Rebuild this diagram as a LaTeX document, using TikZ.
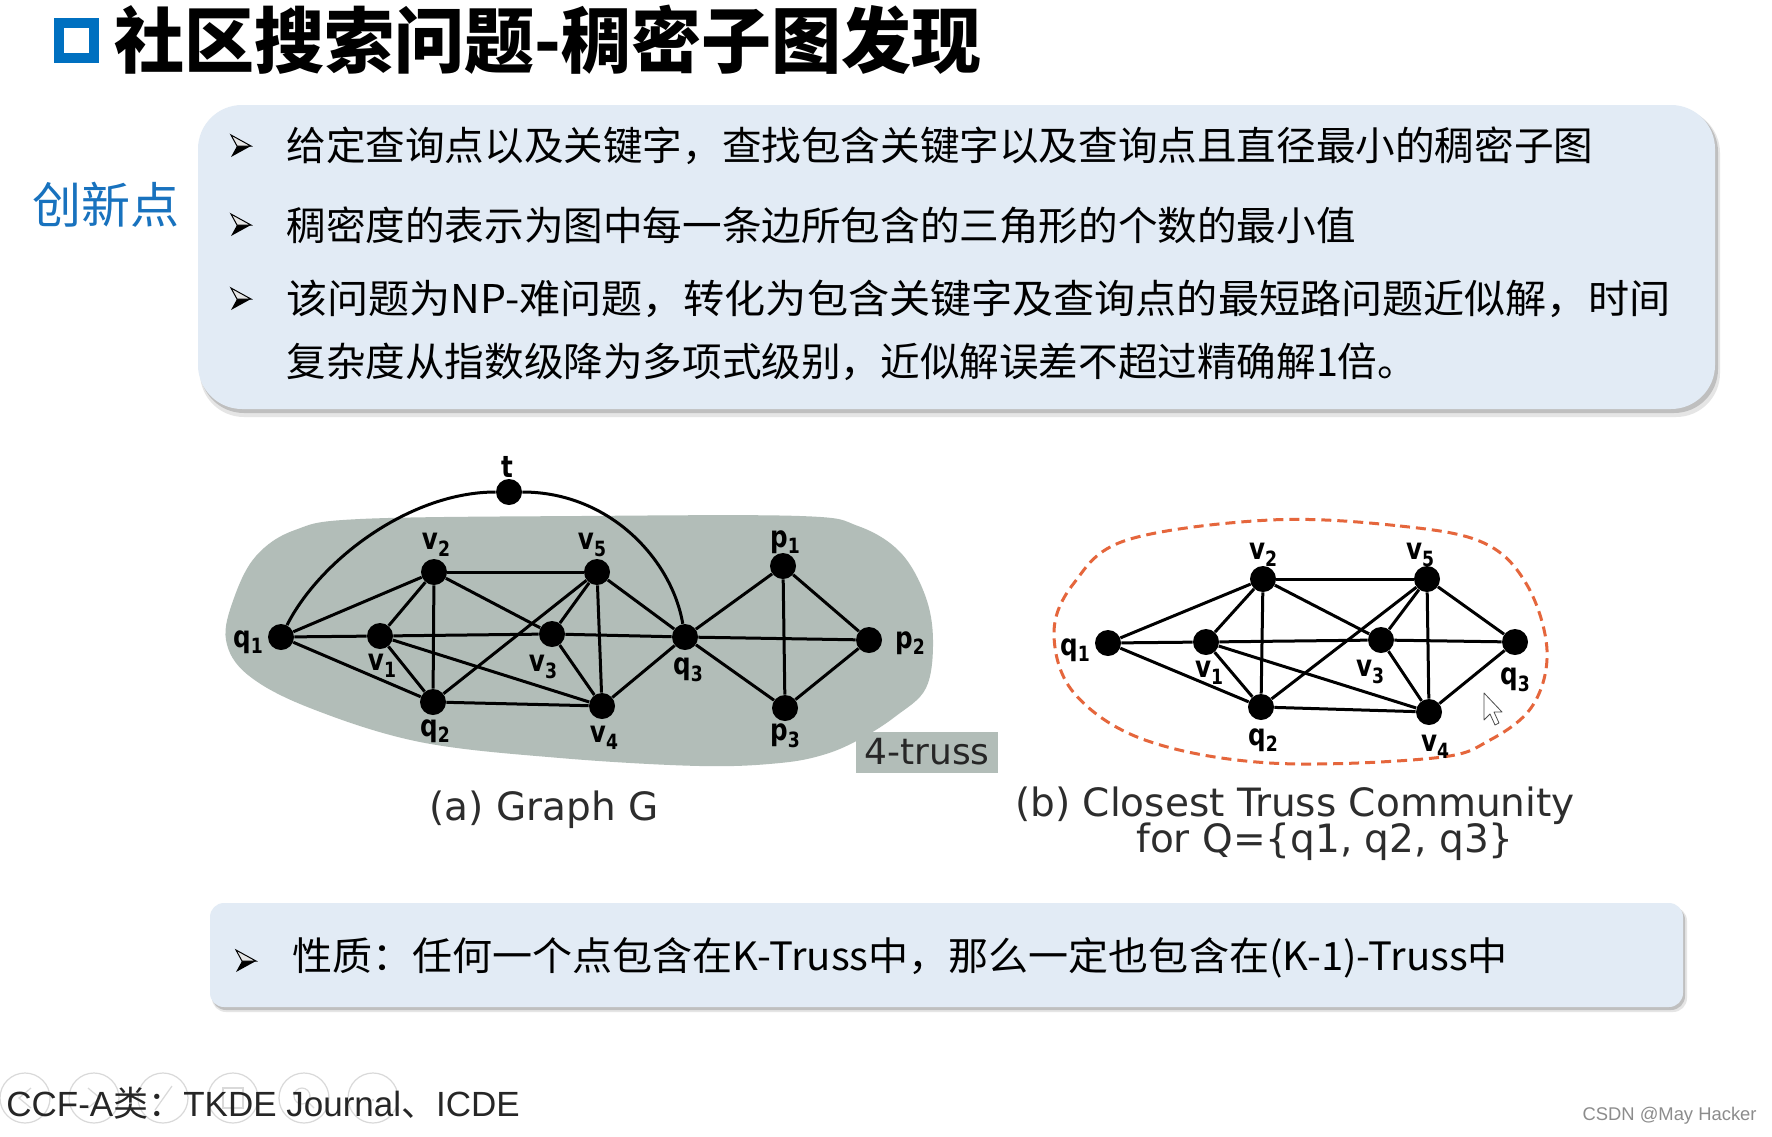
\documentclass[tikz,border=0pt]{standalone}
\usepackage{fontspec}
\usepackage{graphicx}
\setmainfont{Liberation Sans}
\newfontfamily\cjk{Noto Sans CJK SC}
\newfontfamily\dv{DejaVu Sans}
\newcommand\fsz[1]{\fontsize{#1pt}{#1pt}\selectfont}
\newcommand\vlab[2]{\scalebox{0.82}[1]{\dv\bfseries\fsz{15}#1\raisebox{-0.22em}{\fsz{10.5}#2}}}
\definecolor{boxfill}{RGB}{226,235,245}
\definecolor{blobgray}{RGB}{178,189,184}
\definecolor{ttlblue}{RGB}{0,112,192}
\definecolor{cxblue}{RGB}{24,114,190}
\definecolor{dashor}{RGB}{229,102,60}
\definecolor{capgray}{RGB}{45,45,45}
\tikzset{
  bul/.pic={
    \fill[black] (-10,11) -- (10,0) -- (-4,0) -- cycle;
    \filldraw[fill=gray!20, draw=black, line width=0.5pt] (-10,-11) -- (10,0) -- (-4,0) -- cycle;
  }
}
\begin{document}
\begin{tikzpicture}[x=0.5pt,y=-0.5pt,
  dot/.style={circle,fill=black,inner sep=0pt,minimum size=13pt},
  edge/.style={line width=1.5pt},
  lab/.style={inner sep=0pt},
  bodytext/.style={anchor=west,inner sep=0pt,font=\cjk\fsz{19.8}},
  icon/.style={draw=gray!30,line width=0.6pt}
]
\useasboundingbox (0,0) rectangle (1772,1136);
\fill[white] (0,0) rectangle (1772,1136);

% ---------- title ----------
\draw[ttlblue, line width=5pt] (59,23) rectangle (94,58);
\node[anchor=west, inner sep=0pt, font=\cjk\bfseries\fsz{34.5}] (title) at (114,40) {\scalebox{1.015}[1.04]{社区搜索问题-稠密子图发现}};

% ---------- main box ----------
\fill[black!10, rounded corners=22pt] (200,109) rectangle (1720,417);
\fill[black!25, rounded corners=22pt] (200,108) rectangle (1718,413);
\fill[boxfill, rounded corners=22pt] (198,105) rectangle (1715,409);
\node[text=cxblue, font=\cjk\fsz{24.5}, inner sep=0pt] (cx) at (106,205) {创新点};

\pic at (241,146) {bul};
\pic at (241,225) {bul};
\pic at (241,299) {bul};
\node[bodytext] (l1) at (286,146) {给定查询点以及关键字，查找包含关键字以及查询点且直径最小的稠密子图};
\node[bodytext] (l2) at (286,225) {稠密度的表示为图中每一条边所包含的三角形的个数的最小值};
\node[bodytext] (l3) at (286,299) {\scalebox{1.038}[1]{该问题为NP-难问题，转化为包含关键字及查询点的最短路问题近似解，时间}};
\node[bodytext] (l4) at (286,362) {复杂度从指数级降为多项式级别，近似解误差不超过精确解1倍。};

% ---------- graph (a) ----------
\fill[blobgray] plot[smooth cycle, tension=0.6] coordinates {
  (226,640) (234,598) (256,556) (295,530) (360,519) (580,516) (800,516)
  (858,526) (900,552) (925,595) (933,640) (926,688) (896,716) (862,738)
  (826,754) (780,763) (700,766) (560,758) (420,742) (310,708) (248,675)};
\node[fill=blobgray, minimum width=71pt, minimum height=20.5pt, inner sep=0pt,
      font=\dv\fsz{18}, text=black!85] (truss) at (927,752) {4-truss};

\node[dot] (at) at (509,492) {};
\node[dot] (av2) at (434,572) {};
\node[dot] (av5) at (597,572) {};
\node[dot] (aq1) at (281,637) {};
\node[dot] (av1) at (380,636) {};
\node[dot] (av3) at (552,634) {};
\node[dot] (aq3) at (685,637) {};
\node[dot] (aq2) at (433,702) {};
\node[dot] (av4) at (602,706) {};
\node[dot] (ap1) at (783,566) {};
\node[dot] (ap2) at (869,640) {};
\node[dot] (ap3) at (785,708) {};

\foreach \a/\b in {q1/v1, v1/v3, v3/q3, q3/p2, q1/v2, q1/q2, v1/v2, v1/q2, v1/v4,
  v2/q2, v2/v5, v2/v3, v5/v3, v5/v4, v5/q3, v5/q2, v3/v4, q2/v4, v4/q3,
  q3/p1, q3/p3, p1/p2, p1/p3, p2/p3}
  \draw[edge] (a\a) -- (a\b);
\draw[edge] (aq1) .. controls (320,560) and (410,492) .. (at);
\draw[edge] (at) .. controls (610,492) and (672,560) .. (aq3);

\node[lab] (lat) at (507,467) {\scalebox{0.82}[1]{\dv\bfseries\fsz{15}t}};
\node[lab] (lav2) at (436,545) {\vlab{v}{2}};
\node[lab] (lav5) at (592,545) {\vlab{v}{5}};
\node[lab] (lap1) at (785,542) {\vlab{p}{1}};
\node[lab] (laq1) at (248,642) {\vlab{q}{1}};
\node[lab] (lav1) at (382,666) {\vlab{v}{1}};
\node[lab] (lav3) at (543,667) {\vlab{v}{3}};
\node[lab] (laq3) at (688,670) {\vlab{q}{3}};
\node[lab] (lap2) at (910,643) {\vlab{p}{2}};
\node[lab] (laq2) at (435,731) {\vlab{q}{2}};
\node[lab] (lav4) at (604,738) {\vlab{v}{4}};
\node[lab] (lap3) at (785,736) {\vlab{p}{3}};

\node[font=\dv\fsz{19.5}, text=capgray, inner sep=0pt] (capa) at (544,810) {(a) Graph G};

% ---------- graph (b) ----------
\draw[dashor, line width=1.5pt, dash pattern=on 5pt off 3pt] plot[smooth cycle, tension=0.6] coordinates {
  (1270,520) (1400,526) (1484,543) (1527,585) (1547,650) (1533,705) (1490,740)
  (1434,758) (1270,763) (1145,740) (1074,693) (1054,633) (1074,583) (1127,540)};

\node[dot] (bq1) at (1108,643) {};
\node[dot] (bv1) at (1206,642) {};
\node[dot] (bv2) at (1263,579) {};
\node[dot] (bv5) at (1427,579) {};
\node[dot] (bv3) at (1381,640) {};
\node[dot] (bq3) at (1515,642) {};
\node[dot] (bq2) at (1261,707) {};
\node[dot] (bv4) at (1429,712) {};

\foreach \a/\b in {q1/v1, v1/v3, v3/q3, q1/v2, q1/q2, v1/v2, v1/q2, v1/v4,
  v2/q2, v2/v5, v2/v3, v5/v3, v5/v4, v5/q3, v5/q2, v3/v4, q2/v4, v4/q3}
  \draw[edge] (b\a) -- (b\b);

\node[lab] (lbq1) at (1075,650) {\vlab{q}{1}};
\node[lab] (lbv1) at (1209,673) {\vlab{v}{1}};
\node[lab] (lbv2) at (1263,555) {\vlab{v}{2}};
\node[lab] (lbv5) at (1420,555) {\vlab{v}{5}};
\node[lab] (lbv3) at (1370,672) {\vlab{v}{3}};
\node[lab] (lbq3) at (1515,680) {\vlab{q}{3}};
\node[lab] (lbq2) at (1263,740) {\vlab{q}{2}};
\node[lab] (lbv4) at (1435,747) {\vlab{v}{4}};

\filldraw[fill=white, draw=black!70, line width=0.4pt, line join=round]
  (1484,693) -- (1484,720) -- (1490,714) -- (1495,725) -- (1499,723) -- (1494,712) -- (1502,712) -- cycle;

\node[font=\dv\fsz{19.5}, text=capgray, inner sep=0pt] (capb1) at (1295,806) {(b) Closest Truss Community};
\node[font=\dv\fsz{19.5}, text=capgray, inner sep=0pt] (capb2) at (1325,842) {for Q=\{q1, q2, q3\}};

% ---------- bottom box ----------
\fill[black!10, rounded corners=7pt] (212,907) rectangle (1687,1012);
\fill[black!25, rounded corners=7pt] (212,906) rectangle (1685,1010);
\fill[boxfill, rounded corners=7pt] (210,903) rectangle (1683,1007);
\pic at (246,961) {bul};
\node[bodytext, font=\cjk\fsz{19.5}] (prop) at (292,958) {\scalebox{1.027}[1]{性质：任何一个点包含在K-Truss中，那么一定也包含在(K-1)-Truss中}};

% ---------- footer ----------
\foreach \cx in {25,94,163,233,304,373} \draw[icon] (\cx,1098) circle (25);
\draw[icon] (31,1088) -- (19,1098) -- (31,1108);
\draw[icon] (88,1088) -- (100,1098) -- (88,1108);
\draw[icon] (155,1110) -- (172,1086);
\draw[icon] (223,1088) rectangle (243,1108);
\draw[icon] (302,1096) circle (8) (308,1102) -- (314,1108);
\fill[gray!30] (365,1100) circle (1.5) (373,1100) circle (1.5) (381,1100) circle (1.5);
\node[anchor=west, inner sep=0pt, font=\fsz{17.5}, text=black!85] (foot) at (6,1103) {CCF-A{\cjk 类：}TKDE Journal{\cjk 、}ICDE};
\node[anchor=east, inner sep=0pt, font=\fsz{9.2}, text=black!45] (wm) at (1757,1116) {CSDN @May Hacker};
\end{tikzpicture}
\end{document}
